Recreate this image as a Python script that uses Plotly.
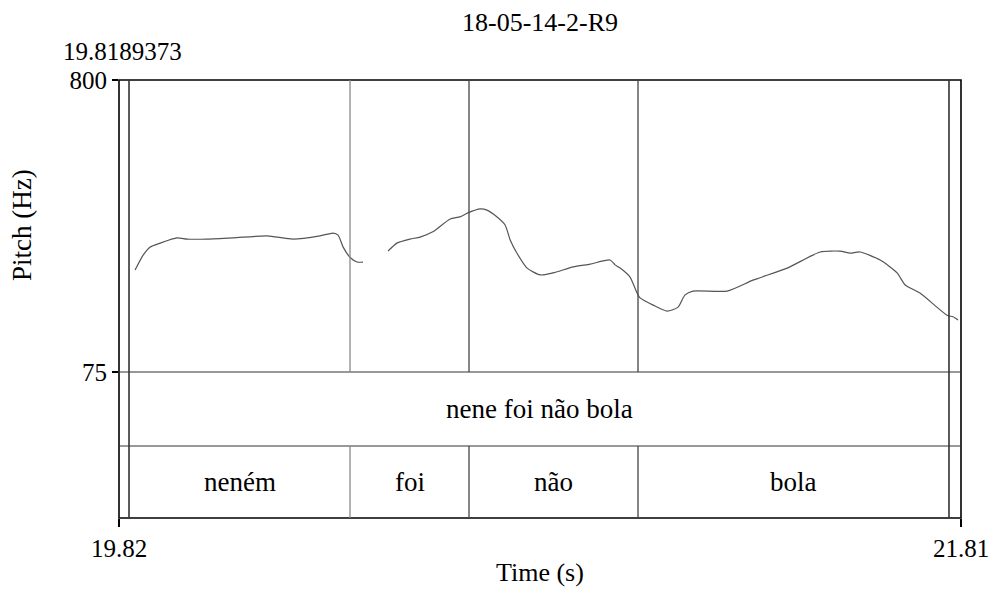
import plotly.graph_objects as go

# ---------------- data ----------------
title_text = "18-05-14-2-R9"
t_start = 19.8189373
t_end = 21.81
x_tick_labels = ["19.82", "21.81"]
y_min, y_max = 75, 800

# pitch contour (time s, Hz); None marks the unvoiced gap
pitch_time = [19.857, 19.876, 19.892, 19.916, 19.956, 19.980, 20.027, 20.089, 20.169, 20.230,
              20.294, 20.325, 20.337, 20.349, 20.365, 20.382, 20.396,
              None,
              20.455, 20.476, 20.507, 20.531, 20.561, 20.602, 20.625, 20.644, 20.673, 20.689,
              20.713, 20.732, 20.744, 20.760, 20.784, 20.815, 20.845, 20.893, 20.933, 20.980,
              20.992, 21.004, 21.027, 21.044, 21.051, 21.082, 21.115, 21.141, 21.157, 21.176,
              21.257, 21.318, 21.399, 21.477, 21.524, 21.548, 21.571, 21.619, 21.659, 21.678,
              21.713, 21.777, 21.791, 21.803]
pitch_hz = [328, 365, 385, 395, 408, 405, 405, 408, 413, 405,
            413, 420, 415, 385, 360, 348, 348,
            None,
            375, 395, 405, 410, 423, 455, 460, 470, 480, 477,
            460, 440, 403, 370, 333, 316, 321, 336, 343, 353,
            341, 333, 311, 271, 259, 241, 226, 236, 266, 276,
            276, 303, 333, 373, 375, 370, 373, 353, 321, 291,
            271, 216, 212, 204]

# TextGrid tiers
tier1_bounds = [19.8426, 21.7816]
tier1_labels = ["nene foi não bola"]
tier2_bounds = [19.8426, 20.3652, 20.6466, 21.0462, 21.7816]
tier2_labels = ["neném", "foi", "não", "bola"]

# ---------------- layout constants ----------------
W, H = 991, 589
L, R, T, B = 119, 30, 80, 71
plot_h = H - T - B  # 438
def py(pix):  # pixel y -> paper y
    return (H - B - pix) / plot_h
def px(pix):
    return (pix - L) / (W - L - R)

pitch_bottom = py(372)
tier_sep = py(446)
FONT = "Liberation Serif"
FS = 25   # numbers
FW = 27   # words

fig = go.Figure()
fig.add_trace(go.Scatter(x=pitch_time, y=pitch_hz, mode="lines",
                         line=dict(color="#555555", width=1.2, shape="spline", smoothing=0.6),
                         connectgaps=False, hoverinfo="skip", showlegend=False))

shapes = []
# frame
shapes.append(dict(type="rect", xref="paper", yref="paper", x0=0, x1=1, y0=0, y1=1,
                   line=dict(color="black", width=1.6), layer="above"))
# horizontal separators
for yy in [pitch_bottom, tier_sep]:
    shapes.append(dict(type="line", xref="paper", yref="paper", x0=0, x1=1, y0=yy, y1=yy,
                       line=dict(color="#333333", width=1.2), layer="above"))
# outer boundaries (full height)
for b in [tier2_bounds[0], tier2_bounds[-1]]:
    shapes.append(dict(type="line", xref="x", yref="paper", x0=b, x1=b, y0=0, y1=1,
                       line=dict(color="#333333", width=1.6), layer="above"))
# inner word boundaries: through pitch area and word tier, not through phrase tier
for i, b in enumerate(tier2_bounds[1:-1]):
    col = "#888888" if i == 0 else "#444444"
    for y0, y1 in [(pitch_bottom, 1), (0, tier_sep)]:
        shapes.append(dict(type="line", xref="x", yref="paper", x0=b, x1=b, y0=y0, y1=y1,
                           line=dict(color=col, width=1.3), layer="above"))

annotations = []
# tier texts
annotations.append(dict(x=(tier1_bounds[0] + tier1_bounds[1]) / 2, y=(pitch_bottom + tier_sep) / 2,
                        xref="x", yref="paper", text=tier1_labels[0], showarrow=False,
                        xanchor="center", yanchor="middle",
                        font=dict(family=FONT, size=FW, color="black")))
for i, lab in enumerate(tier2_labels):
    annotations.append(dict(x=(tier2_bounds[i] + tier2_bounds[i + 1]) / 2, y=tier_sep / 2,
                            xref="x", yref="paper", text=lab, showarrow=False,
                            xanchor="center", yanchor="middle",
                            font=dict(family=FONT, size=FW, color="black")))
# title & misc texts
annotations.append(dict(x=0.5, y=py(22), xref="paper", yref="paper", text=title_text,
                        xanchor="center", yanchor="middle",
                        showarrow=False, font=dict(family=FONT, size=26, color="black")))
annotations.append(dict(x=px(122), y=py(52), xref="paper", yref="paper", text=f"{t_start:.7f}",
                        xanchor="center", yanchor="middle",
                        showarrow=False, font=dict(family=FONT, size=FS, color="black")))
annotations.append(dict(x=px(22), y=py(225), xref="paper", yref="paper", text="Pitch (Hz)",
                        xanchor="center", yanchor="middle",
                        textangle=-90, showarrow=False, font=dict(family=FONT, size=FW, color="black")))
annotations.append(dict(x=0.5, y=py(572), xref="paper", yref="paper", text="Time (s)",
                        xanchor="center", yanchor="middle",
                        showarrow=False, font=dict(family=FONT, size=26, color="black")))

fig.update_layout(
    width=W, height=H,
    margin=dict(l=L, r=R, t=T, b=B, pad=0, autoexpand=False),
    paper_bgcolor="white", plot_bgcolor="white",
    showlegend=False,
    shapes=shapes, annotations=annotations,
    xaxis=dict(range=[t_start, t_end], tickvals=[t_start, t_end], ticktext=x_tick_labels,
               anchor="free", position=0, automargin=False,
               ticks="outside", ticklen=8, tickwidth=1.6, tickcolor="black",
               showgrid=False, zeroline=False, showline=False,
               tickfont=dict(family=FONT, size=FS, color="black")),
    yaxis=dict(range=[y_min, y_max], domain=[pitch_bottom, 1], tickvals=[y_min, y_max],
               ticktext=[str(y_min), str(y_max)], automargin=False,
               ticks="outside", ticklen=6, tickwidth=1.6, tickcolor="black",
               showgrid=False, zeroline=False, showline=False,
               tickfont=dict(family=FONT, size=FS, color="black")),
)

fig.write_html("out.html")
